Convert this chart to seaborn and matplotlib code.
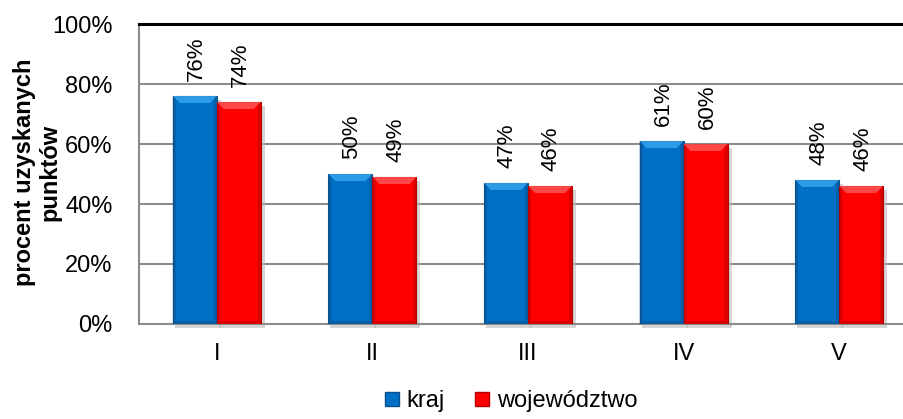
import matplotlib
matplotlib.use("Agg")
import matplotlib.pyplot as plt
import seaborn as sns
import pandas as pd
import numpy as np
from matplotlib.patches import Polygon, Rectangle
from matplotlib.lines import Line2D

categories = ["I", "II", "III", "IV", "V"]
kraj = [76, 50, 47, 61, 48]
wojewodztwo = [74, 49, 46, 60, 46]
series_names = ["kraj", "województwo"]
y_ticks = [0, 20, 40, 60, 80, 100]

colors = {"kraj": "#0070C6", "województwo": "#FF0000"}
light = {"kraj": "#3AA6F0", "województwo": "#FF5A5A"}
dark = {"kraj": "#0A4F8A", "województwo": "#B30000"}

df = pd.DataFrame({
    "cat": categories * 2,
    "val": kraj + wojewodztwo,
    "series": [series_names[0]] * len(categories) + [series_names[1]] * len(categories),
})

sns.set_style("white")
plt.rcParams["font.family"] = ["Liberation Sans", "DejaVu Sans"]
plt.rcParams["text.color"] = "black"
FS = 17

fig = plt.figure(figsize=(9.04, 4.19), dpi=100)
ax = fig.add_axes([139 / 904, 1 - 324 / 419, (917 - 139) / 904, 300 / 419])

sns.barplot(data=df, x="cat", y="val", hue="series", order=categories,
            hue_order=series_names, palette=colors, width=0.566,
            saturation=1, ax=ax, legend=False, zorder=3)

ax.set_ylim(0, 100)
ax.set_xlim(-0.5, len(categories) - 0.5)
ax.set_yticks(y_ticks)
ax.set_yticklabels([f"{t}%" for t in y_ticks], fontsize=FS)
ax.yaxis.grid(True, color="#8C8C8C", linewidth=1.5, zorder=0)
ax.set_axisbelow(True)
ax.set_xlabel("")
ax.set_ylabel("")
ax.tick_params(axis="x", which="major", length=0, pad=14, labelsize=FS, labelcolor="black")
ax.set_xticks(np.arange(-0.5, len(categories), 1.0), minor=True)
ax.tick_params(axis="x", which="minor", length=6, width=1.5, color="#8C8C8C", direction="out")
ax.tick_params(axis="y", which="major", length=6, width=1.5, color="#8C8C8C", direction="out",
               pad=13, labelcolor="black")
for s in ["left", "bottom"]:
    ax.spines[s].set_color("#8C8C8C")
    ax.spines[s].set_linewidth(1.5)
ax.spines["right"].set_visible(False)
ax.spines["top"].set_color("black")
ax.spines["top"].set_linewidth(2.2)

# bevel decoration derived from the bars' own geometry
to_disp = ax.transData
inv = ax.transData.inverted()
bars = [p for p in ax.patches if isinstance(p, Rectangle) and p.get_height() > 0]
for i, p in enumerate(bars):
    sname = series_names[0] if i < len(categories) else series_names[1]
    p.set_edgecolor(dark[sname])
    p.set_linewidth(0.8)
    x0, y0 = p.get_x(), p.get_y()
    w, h = p.get_width(), p.get_height()
    (dx0, dy0) = to_disp.transform((x0, y0))
    (dx1, dy1) = to_disp.transform((x0 + w, y0 + h))
    b = 7
    top = [(dx0, dy1), (dx1, dy1), (dx1 - b, dy1 - b), (dx0 + b, dy1 - b)]
    left = [(dx0, dy0), (dx0, dy1), (dx0 + 3, dy1 - 3), (dx0 + 3, dy0 + 3)]
    right = [(dx1, dy0), (dx1, dy1), (dx1 - 3, dy1 - 3), (dx1 - 3, dy0 + 3)]
    bottom = [(dx0, dy0), (dx1, dy0), (dx1 - 3, dy0 + 3), (dx0 + 3, dy0 + 3)]
    for pts, c, a in [(top, light[sname], 0.8), (left, dark[sname], 0.5),
                      (right, dark[sname], 0.5), (bottom, dark[sname], 0.5)]:
        ax.add_patch(Polygon(inv.transform(pts), closed=True, facecolor=c,
                             edgecolor="none", alpha=a, zorder=4))
    # soft shadow
    sh = [(dx0 + 2, dy0 - 4), (dx1 + 4, dy0 - 4), (dx1 + 4, dy1 - 4), (dx1, dy1 - 4), (dx1, dy0), (dx0 + 2, dy0)]
    ax.add_patch(Polygon(inv.transform(sh), closed=True, facecolor="#BBBBBB",
                         edgecolor="none", alpha=0.6, zorder=2, clip_on=False))
    ax.annotate(f"{int(round(h))}%", (x0 + w / 2, y0 + h), xytext=(1, 11),
                textcoords="offset points", rotation=90, ha="center", va="bottom",
                fontsize=16, color="black", zorder=5)

fig.text(37 / 904, 1 - 172 / 419, "procent uzyskanych\npunktów", rotation=90,
         ha="center", va="center", fontsize=FS, fontweight="bold",
         multialignment="center", linespacing=1.15, color="black")

handles = [Line2D([], [], marker="s", linestyle="none", markersize=10.5,
                  markerfacecolor=colors[n], markeredgecolor=dark[n]) for n in series_names]
fig.legend(handles, series_names, loc="center", bbox_to_anchor=(510 / 904, 1 - 401 / 419),
           ncol=2, frameon=False, fontsize=FS, handletextpad=0.2, columnspacing=1.2,
           handlelength=0.8, borderpad=0, labelcolor="black")

fig.savefig("out.png", dpi=100)
